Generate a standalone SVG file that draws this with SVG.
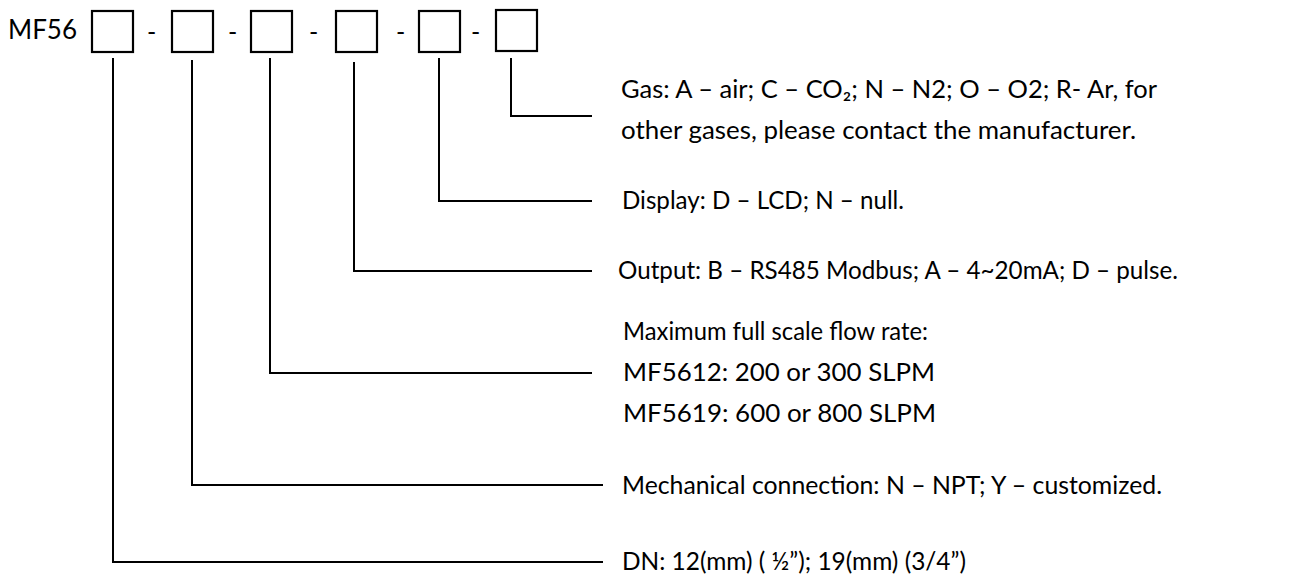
<svg xmlns="http://www.w3.org/2000/svg" width="1305" height="574" viewBox="0 0 1305 574">
<style>
  text { font-family: Lato, "Open Sans", "Liberation Sans", sans-serif; font-size: 25px; fill: #000; }
  .box { fill: none; stroke: #000; stroke-width: 2.2; }
  .conn { fill: none; stroke: #000; stroke-width: 2; }
</style>
<rect width="1305" height="574" fill="#fff"/>
<g id="code">
  <text x="8" y="39" style="font-size:26px">MF56</text>
  <text x="147" y="41">-</text>
  <text x="228" y="41">-</text>
  <text x="309" y="41">-</text>
  <text x="396" y="41">-</text>
  <text x="471" y="41">-</text>
</g>
<g id="box1"><rect class="box" x="92" y="11" width="41" height="41"/></g>
<g id="box2"><rect class="box" x="172" y="11" width="41" height="41"/></g>
<g id="box3"><rect class="box" x="251" y="11" width="41" height="41"/></g>
<g id="box4"><rect class="box" x="336" y="11" width="41" height="41"/></g>
<g id="box5"><rect class="box" x="419" y="11" width="41" height="41"/></g>
<g id="box6"><rect class="box" x="496" y="10" width="41" height="41"/></g>
<g id="connectors">
  <polyline class="conn" points="113,58 113,562 603,562"/>
  <polyline class="conn" points="192,60 192,485 603,485"/>
  <polyline class="conn" points="270,58 270,373 592,373"/>
  <polyline class="conn" points="354,62 354,271 592,271"/>
  <polyline class="conn" points="439,58 439,201 592,201"/>
  <polyline class="conn" points="511,58 511,116 592,116"/>
</g>
<g id="label-gas">
  <text x="621" y="98" textLength="536" lengthAdjust="spacingAndGlyphs">Gas: A – air; C – CO₂; N – N2; O – O2; R- Ar, for</text>
  <text x="621" y="139" textLength="515" lengthAdjust="spacingAndGlyphs">other gases, please contact the manufacturer.</text>
</g>
<g id="label-display"><text x="622" y="209" textLength="282" lengthAdjust="spacingAndGlyphs">Display: D – LCD; N – null.</text></g>
<g id="label-output"><text x="618" y="279" textLength="560" lengthAdjust="spacingAndGlyphs">Output: B – RS485 Modbus; A – 4~20mA; D – pulse.</text></g>
<g id="label-range">
  <text x="623" y="340" textLength="305" lengthAdjust="spacingAndGlyphs">Maximum full scale flow rate:</text>
  <text x="623" y="381" textLength="312" lengthAdjust="spacingAndGlyphs">MF5612: 200 or 300 SLPM</text>
  <text x="623" y="422" textLength="313" lengthAdjust="spacingAndGlyphs">MF5619: 600 or 800 SLPM</text>
</g>
<g id="label-mech"><text x="622" y="494" textLength="540" lengthAdjust="spacingAndGlyphs">Mechanical connection: N – NPT; Y – customized.</text></g>
<g id="label-dn"><text x="622" y="570" textLength="344" lengthAdjust="spacingAndGlyphs">DN: 12(mm) ( ½”); 19(mm) (3/4”)</text></g>
</svg>
